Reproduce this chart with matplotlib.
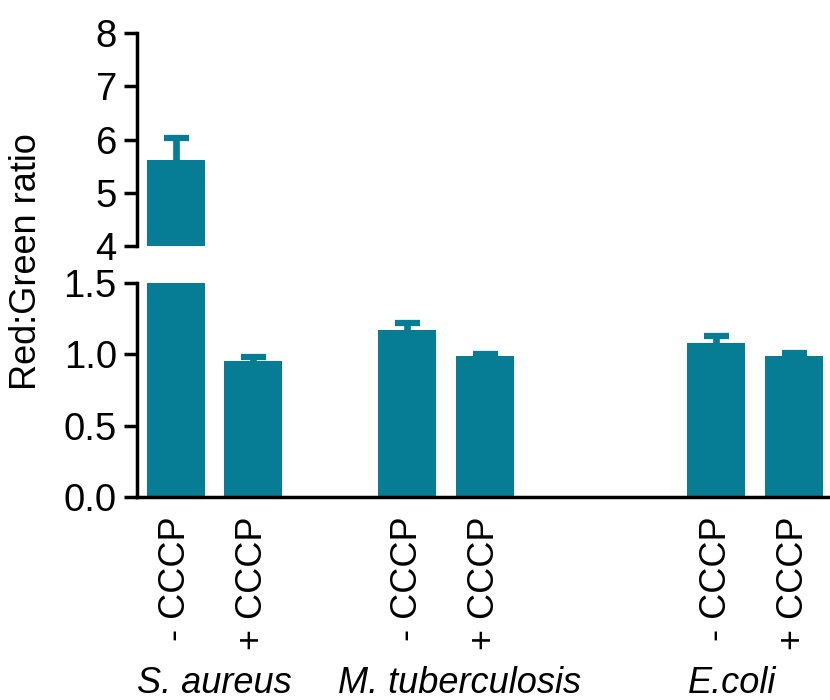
# Red:Green ratio bars with a broken y axis

import numpy as np
import matplotlib.pyplot as plt

plt.rcParams['font.family'] = ['Liberation Sans', 'DejaVu Sans']
fontsize = 26
teal = '#077D95'

# data
conditions = ['- CCCP', '+ CCCP', '- CCCP', '+ CCCP', '- CCCP', '+ CCCP']
species = ['S. aureus', 'M. tuberculosis', 'E.coli']
ratio = np.array([5.62, 0.95, 1.17, 0.99, 1.08, 0.99])
ratio_err = np.array([0.40, 0.03, 0.05, 0.01, 0.05, 0.02])

# bar layout: pairs with gaps between the groups
ind = np.array([0, 1, 3, 4, 7, 8])
width = 0.75
species_x = [0.5, 3.68, 7.2]

fig = plt.figure(figsize=(8.3, 7.0), dpi=100)
left = 137 / 830
ax_top = fig.add_axes([left, 1 - 246 / 700, 1 - left, 213 / 700])
ax_bot = fig.add_axes([left, 1 - 497 / 700, 1 - left, 214 / 700])

for ax in (ax_top, ax_bot):
    ax.bar(ind, ratio, width, color=teal, linewidth=0)
    eb = ax.errorbar(ind, ratio, yerr=[np.zeros_like(ratio_err), ratio_err],
                     fmt='none', ecolor=teal, elinewidth=4.8,
                     capsize=9, capthick=4.5)
    eb[1][0].set_visible(False)   # no lower caps
    ax.set_xlim(-0.5, 8.47)
    ax.spines['top'].set_visible(False)
    ax.spines['right'].set_visible(False)
    ax.spines['left'].set_linewidth(2.5)
    ax.spines['bottom'].set_linewidth(2.5)
    ax.tick_params(axis='y', length=9.5, width=2.5, pad=5, labelsize=27.5)

# upper part of the axis
ax_top.set_ylim(4, 8)
ax_top.set_yticks([4, 5, 6, 7, 8])
ax_top.spines['bottom'].set_visible(False)
ax_top.set_xticks([])

# lower part of the axis
ax_bot.set_ylim(0, 1.5)
ax_bot.set_yticks([0, 0.5, 1.0, 1.5])
ax_bot.set_yticklabels(['0.0', '0.5', '1.0', '1.5'])
ax_bot.set_xticks(ind)
ax_bot.set_xticklabels(conditions, rotation=90, fontsize=fontsize)
ax_bot.tick_params(axis='x', length=0, pad=14)

for x, name in zip(species_x, species):
    ax_bot.text(x, -0.87, name, transform=ax_bot.get_xaxis_transform(),
                ha='center', va='center', fontsize=fontsize, style='italic')

fig.text(27 / 830, 1 - 262 / 700, 'Red:Green ratio', rotation=90,
         ha='center', va='center', fontsize=fontsize)

fig.savefig('out.png', dpi=100)
